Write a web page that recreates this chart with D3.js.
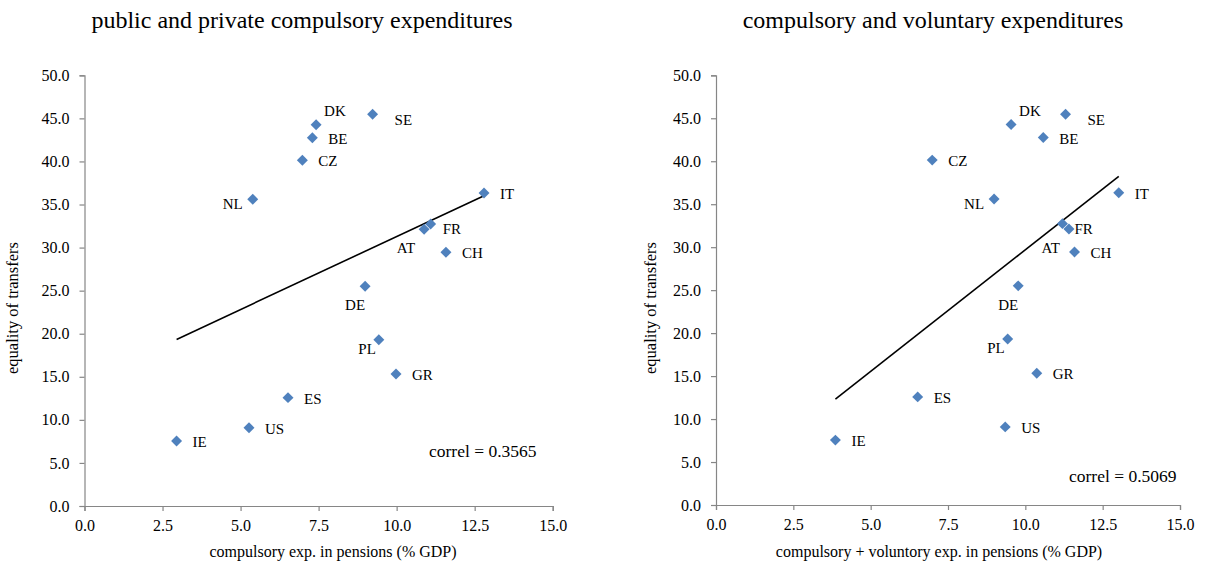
<!DOCTYPE html>
<html>
<head>
<meta charset="utf-8">
<script src="https://cdn.jsdelivr.net/npm/d3@7"></script>
<style>
  html, body { margin: 0; padding: 0; background: #fff; }
  svg { display: block; }
  svg text { font-family: "Liberation Serif", "Times New Roman", serif !important; }
</style>
</head>
<body>
<svg id="chart" width="1222" height="567"></svg>
<script>
// ---- data ----
const countries = ["IE","US","ES","NL","CZ","BE","DK","DE","SE","PL","GR","AT","FR","CH","IT"];
const equality  = [7.55, 9.09, 12.58, 35.60, 40.13, 42.76, 44.27, 25.50, 45.47, 19.31, 15.33, 32.12, 32.74, 29.45, 36.34];
const compulsoryExp = [2.95, 5.27, 6.52, 5.39, 6.98, 7.30, 7.42, 8.99, 9.23, 9.43, 9.98, 10.88, 11.09, 11.58, 12.80];
const totalExp      = [3.86, 9.35, 6.52, 8.99, 6.99, 10.58, 9.54, 9.77, 11.30, 9.43, 10.37, 11.41, 11.20, 11.59, 13.02];
const xTicks = [0, 2.5, 5, 7.5, 10, 12.5, 15];
const yTicks = [0, 5, 10, 15, 20, 25, 30, 35, 40, 45, 50];
const titles = ["public and private compulsory expenditures", "compulsory and voluntary expenditures"];
const xLabels = ["compulsory exp. in pensions (% GDP)", "compulsory + voluntory exp. in pensions (% GDP)"];
const yLabel = "equality of transfers";
const correls = ["correl = 0.3565", "correl = 0.5069"];

// label placement style (offsets in px, anchor)
const labelStyle = {
  DK: {dx: 8, dy: -9, a: "start"},
  SE: {dx: 22, dy: 11, a: "start"},
  NL: {dx: -10, dy: 10, a: "end"},
  AT: {dx: -9, dy: 24, a: "end"},
  DE: {dx: 0, dy: 24, a: "end"},
  PL: {dx: -3, dy: 14, a: "end"},
  FR: {dx: 12, dy: 10, a: "start"},
  default: {dx: 16, dy: 6, a: "start"}
};

const panels = [
  {xs: compulsoryExp, x0: 84.5, x1: 552.7, y0: 506, y1: 75.3,
   titleX: 302, xLabX: 333, yLabX: 18, correlX: 429, correlY: 457},
  {xs: totalExp, x0: 716, x1: 1180, y0: 505, y1: 75.3,
   titleX: 933, xLabX: 939, yLabX: 656, correlX: 1069, correlY: 482}
];

const FONT = "'Liberation Serif', 'Times New Roman', serif";
const svg = d3.select("#chart").attr("font-family", FONT);
const axisColor = "#868686";
const markColor = "#4F81BD";

panels.forEach((p, i) => {
  const x = d3.scaleLinear().domain([0, 15]).range([p.x0, p.x1]);
  const y = d3.scaleLinear().domain([0, 50]).range([p.y0, p.y1]);
  const g = svg.append("g").attr("font-family", FONT);

  // title
  g.append("text").attr("x", p.titleX).attr("y", 28).attr("text-anchor", "middle")
    .attr("font-family", FONT).style("font-size", "24px").attr("fill", "#000").text(titles[i]);

  // axes
  const ya = g.append("g").attr("transform", `translate(${p.x0},0)`)
    .call(d3.axisLeft(y).tickValues(yTicks).tickSize(5).tickPadding(10).tickFormat(d3.format(".1f")));
  const xa = g.append("g").attr("transform", `translate(0,${p.y0})`)
    .call(d3.axisBottom(x).tickValues(xTicks).tickSize(5).tickPadding(9).tickFormat(d3.format(".1f")));
  [ya, xa].forEach(a => {
    a.attr("font-family", FONT);
    a.select(".domain").attr("stroke", axisColor).attr("stroke-width", 1.2);
    a.selectAll(".tick line").attr("stroke", axisColor).attr("stroke-width", 1.2);
    a.selectAll(".tick text").attr("fill", "#000").attr("font-family", FONT).style("font-size", "16px");
  });

  // axis labels
  g.append("text").attr("x", p.xLabX).attr("y", 557).attr("text-anchor", "middle")
    .attr("font-family", FONT).style("font-size", "16px").attr("fill", "#000").text(xLabels[i]);
  g.append("text").attr("transform", `translate(${p.yLabX},308) rotate(-90)`)
    .attr("text-anchor", "middle").attr("font-family", FONT).style("font-size", "16.5px")
    .attr("fill", "#000").text(yLabel);

  // points
  const pts = countries.map((c, k) => ({c, x: p.xs[k], y: equality[k]}));

  // trend line (least squares)
  const mx = d3.mean(pts, d => d.x), my = d3.mean(pts, d => d.y);
  const slope = d3.sum(pts, d => (d.x - mx) * (d.y - my)) / d3.sum(pts, d => (d.x - mx) ** 2);
  const icpt = my - slope * mx;
  const [xmin, xmax] = d3.extent(pts, d => d.x);
  g.append("line")
    .attr("x1", x(xmin)).attr("y1", y(icpt + slope * xmin))
    .attr("x2", x(xmax)).attr("y2", y(icpt + slope * xmax))
    .attr("stroke", "#000").attr("stroke-width", 1.6);

  const sym = d3.symbol().type(d3.symbolSquare).size(60);
  g.selectAll("path.pt").data(pts).enter().append("path").attr("class", "pt")
    .attr("d", sym)
    .attr("transform", d => `translate(${x(d.x)},${y(d.y)}) rotate(45)`)
    .attr("fill", markColor);

  g.selectAll("text.lbl").data(pts).enter().append("text").attr("class", "lbl")
    .attr("x", d => x(d.x) + (labelStyle[d.c] || labelStyle.default).dx)
    .attr("y", d => y(d.y) + (labelStyle[d.c] || labelStyle.default).dy)
    .attr("text-anchor", d => (labelStyle[d.c] || labelStyle.default).a)
    .attr("font-family", FONT).style("font-size", "15px").attr("fill", "#000").text(d => d.c);

  g.append("text").attr("x", p.correlX).attr("y", p.correlY)
    .attr("font-family", FONT).style("font-size", "17.5px").attr("fill", "#000").text(correls[i]);
});
</script>
</body>
</html>
